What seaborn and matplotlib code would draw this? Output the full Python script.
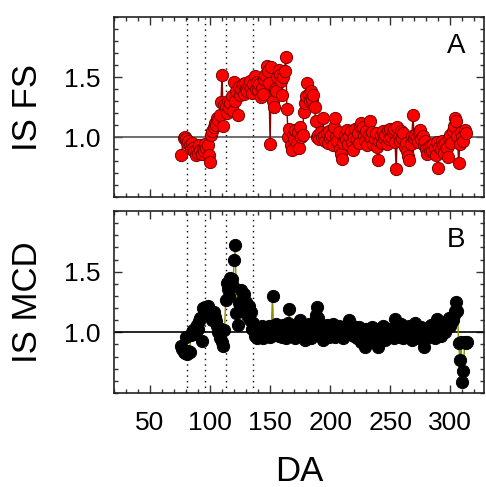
import numpy as np
import pandas as pd
import matplotlib
matplotlib.use("Agg")
import matplotlib.pyplot as plt
from matplotlib.ticker import MultipleLocator, FixedLocator
import seaborn as sns

# ---------------- data ----------------
fs_days = [76, 78, 79, 80, 81, 82, 83, 84, 85, 86, 87, 88, 89, 90, 91, 92, 93, 94, 95, 96,
           97, 98, 99, 100, 101, 102, 103, 104, 105, 106, 107, 108, 109, 110, 111, 112, 113, 114, 115, 116,
           117, 118, 119, 120, 121, 122, 123, 124, 125, 126, 127, 128, 129, 130, 131, 132, 133, 134, 135, 136,
           137, 138, 139, 140, 141, 142, 143, 144, 145, 146, 147, 148, 149, 150, 151, 152, 153, 154, 155, 156,
           157, 158, 159, 160, 161, 162, 163, 164, 165, 166, 167, 168, 169, 170, 171, 172, 173, 174, 175, 176,
           177, 178, 179, 180, 181, 182, 183, 184, 185, 186, 187, 188, 189, 190, 191, 192, 193, 194, 195, 196,
           197, 198, 199, 200, 201, 202, 203, 204, 205, 206, 207, 208, 209, 210, 211, 212, 213, 214, 215, 216,
           217, 218, 219, 220, 221, 222, 223, 224, 225, 226, 227, 228, 229, 230, 231, 232, 233, 234, 235, 236,
           237, 238, 239, 240, 241, 242, 243, 244, 245, 246, 247, 248, 249, 250, 251, 252, 253, 254, 255, 256,
           257, 258, 259, 260, 261, 262, 263, 264, 265, 266, 267, 268, 269, 270, 271, 272, 273, 274, 275, 276,
           277, 278, 279, 280, 281, 282, 283, 284, 285, 286, 287, 288, 289, 290, 291, 292, 293, 294, 295, 296,
           297, 298, 299, 300, 301, 302, 303, 304, 305, 306, 307, 308, 309, 310, 311, 312, 313]
fs_vals = [0.85, 0.99, 1.00, 0.98, 0.95, 0.97, 0.93, 0.90, 0.95, 0.91, 0.88, 0.85, 0.90, 0.87, 0.93, 0.89, 0.86, 0.90, 0.88, 0.94,
           0.91, 0.93, 0.85, 0.79, 1.02, 1.05, 1.08, 1.12, 1.10, 1.16, 1.14, 1.18, 1.29, 1.52, 1.09, 1.27, 1.25, 1.20, 1.30, 1.24,
           1.28, 1.34, 1.22, 1.46, 1.30, 1.38, 1.18, 1.42, 1.35, 1.40, 1.44, 1.36, 1.45, 1.40, 1.38, 1.43, 1.47, 1.41, 1.37, 1.44,
           1.51, 1.40, 1.46, 1.39, 1.44, 1.33, 1.41, 1.36, 1.48, 1.52, 1.59, 1.55, 1.45, 0.94, 1.58, 1.30, 1.25, 1.40, 1.38, 1.50,
           1.56, 1.52, 1.47, 1.35, 1.50, 1.55, 1.67, 1.23, 1.00, 1.07, 0.93, 0.89, 1.02, 0.98, 1.06, 0.95, 1.04, 0.91, 1.08, 1.00,
           1.02, 1.21, 1.28, 1.34, 1.45, 1.36, 1.30, 1.38, 1.31, 1.35, 1.25, 1.13, 1.00, 1.02, 0.98, 1.04, 1.00, 1.16, 1.01, 0.97,
           1.03, 0.95, 1.05, 0.99, 1.02, 0.93, 1.08, 1.16, 1.00, 0.97, 1.04, 0.90, 0.86, 0.82, 0.95, 1.02, 0.98, 1.06, 0.94, 1.01,
           1.05, 0.96, 0.89, 1.00, 1.07, 0.98, 1.03, 0.95, 1.09, 1.12, 1.08, 1.01, 0.97, 1.05, 0.93, 1.02, 1.13, 0.99, 1.04, 0.94,
           0.98, 1.03, 0.92, 0.81, 0.97, 1.01, 0.95, 1.05, 0.99, 1.02, 0.94, 1.06, 0.98, 1.07, 1.00, 1.04, 1.07, 0.96, 0.73, 1.08,
           1.01, 0.97, 1.05, 0.99, 1.03, 0.92, 0.95, 0.88, 0.84, 0.81, 0.94, 1.01, 1.18, 0.99, 1.02, 1.00, 0.96, 1.04, 1.06, 0.98,
           1.01, 0.93, 0.97, 0.90, 0.86, 0.92, 0.88, 0.93, 0.89, 0.94, 0.91, 0.85, 0.96, 0.74, 0.92, 0.90, 0.97, 0.93, 0.87, 0.95,
           0.91, 0.83, 0.99, 1.02, 0.95, 1.05, 1.09, 1.16, 1.13, 1.01, 0.78, 0.94, 1.04, 1.00, 0.97, 1.06, 1.03]

mcd_days = [76, 77, 78, 79, 80, 81, 82, 83, 84, 85, 86, 87, 88, 89, 90, 91, 92, 93, 94, 95,
            96, 97, 98, 99, 100, 101, 102, 103, 104, 105, 106, 107, 108, 109, 110, 111, 112, 113, 114, 115,
            116, 117, 118, 119, 120, 121, 122, 123, 124, 125, 126, 127, 128, 129, 130, 131, 132, 133, 134, 135,
            136, 137, 138, 139, 140, 141, 142, 143, 144, 145, 146, 147, 148, 149, 150, 151, 152, 153, 154, 155,
            156, 157, 158, 159, 160, 161, 162, 163, 164, 165, 166, 167, 168, 169, 170, 171, 172, 173, 174, 175,
            176, 177, 178, 179, 180, 181, 182, 183, 184, 185, 186, 187, 188, 189, 190, 191, 192, 193, 194, 195,
            196, 197, 198, 199, 200, 201, 202, 203, 204, 205, 206, 207, 208, 209, 210, 211, 212, 213, 214, 215,
            216, 217, 218, 219, 220, 221, 222, 223, 224, 225, 226, 227, 228, 229, 230, 231, 232, 233, 234, 235,
            236, 237, 238, 239, 240, 241, 242, 243, 244, 245, 246, 247, 248, 249, 250, 251, 252, 253, 254, 255,
            256, 257, 258, 259, 260, 261, 262, 263, 264, 265, 266, 267, 268, 269, 270, 271, 272, 273, 274, 275,
            276, 277, 278, 279, 280, 281, 282, 283, 284, 285, 286, 287, 288, 289, 290, 291, 292, 293, 294, 295,
            296, 297, 298, 299, 300, 301, 302, 303, 304, 305, 306, 307, 308, 309, 310, 311, 312, 313, 314]
mcd_vals = [0.89, 0.86, 0.84, 0.83, 0.96, 0.82, 0.85, 0.84, 0.98, 1.00, 1.02, 0.99, 1.04, 1.06, 1.03, 1.09, 1.12, 0.93, 1.20, 1.15,
            1.21, 1.18, 1.22, 1.19, 1.16, 1.13, 1.10, 1.17, 1.13, 1.09, 1.05, 1.00, 0.95, 1.03, 0.92, 0.89, 1.02, 1.27, 1.41, 1.36,
            1.30, 1.45, 1.44, 1.38, 1.60, 1.72, 1.16, 1.06, 1.24, 1.18, 1.35, 1.28, 1.32, 1.20, 1.25, 1.14, 1.22, 1.10, 1.17, 1.03,
            1.08, 0.97, 1.02, 0.95, 1.00, 1.04, 0.96, 1.05, 0.95, 1.01, 0.97, 1.03, 0.99, 1.05, 0.96, 1.04, 1.30, 0.98, 1.03, 1.07,
            1.00, 0.97, 1.04, 1.02, 0.96, 1.06, 1.01, 0.95, 1.00, 1.08, 1.19, 1.02, 0.97, 1.06, 1.01, 0.95, 1.03, 0.99, 1.04, 1.10,
            1.00, 0.97, 1.05, 0.94, 1.02, 0.98, 1.07, 1.01, 0.95, 1.03, 1.00, 1.09, 1.14, 1.21, 1.12, 1.05, 0.99, 1.03, 0.94, 1.01,
            0.97, 1.06, 1.02, 0.96, 1.04, 0.99, 1.07, 1.01, 0.96, 1.03, 0.98, 1.05, 1.00, 0.97, 1.02, 0.95, 1.04, 0.99, 1.06, 1.01,
            1.10, 1.03, 0.98, 1.05, 0.97, 1.02, 0.95, 1.00, 1.04, 0.96, 0.92, 1.01, 0.97, 0.88, 1.03, 0.99, 0.95, 1.02, 0.97, 1.04,
            1.00, 0.94, 0.98, 1.03, 0.88, 0.96, 1.01, 0.97, 1.05, 0.99, 0.94, 1.02, 0.96, 1.00, 1.03, 0.97, 1.01, 0.95, 1.11, 1.06,
            0.99, 1.03, 0.96, 1.07, 1.00, 0.95, 1.04, 0.98, 1.02, 0.96, 1.05, 0.99, 0.94, 1.03, 0.97, 1.08, 1.00, 0.95, 1.02, 0.97,
            1.04, 0.99, 0.88, 0.96, 1.01, 0.95, 1.03, 0.98, 1.06, 0.97, 1.02, 0.95, 1.04, 1.11, 0.99, 1.05, 0.97, 1.08, 1.02, 1.06,
            1.00, 1.09, 1.04, 1.12, 1.05, 1.08, 1.10, 1.14, 1.18, 1.25, 1.18, 0.91, 0.77, 0.92, 0.59, 0.68, 0.92, 0.91, 0.92]

event_days = [81, 96, 113, 136]
panel_labels = ["A", "B"]
y_labels = ["IS FS", "IS MCD"]
x_label = "DA"
x_ticks = [50, 100, 150, 200, 250, 300]
y_ticks = [1.0, 1.5]

df_fs = pd.DataFrame({"DA": fs_days, "IS": fs_vals})
df_mcd = pd.DataFrame({"DA": mcd_days, "IS": mcd_vals})

# ---------------- style ----------------
sns.set_style("ticks")
plt.rcParams["font.family"] = ["Liberation Sans", "DejaVu Sans"]
plt.rcParams["text.color"] = "black"
plt.rcParams["axes.labelcolor"] = "black"
plt.rcParams["xtick.color"] = "black"
plt.rcParams["ytick.color"] = "black"

fig = plt.figure(figsize=(4.86, 4.87), dpi=100)
ax1 = fig.add_axes([0.2346, 0.5955, 0.761, 0.3695])
ax2 = fig.add_axes([0.2346, 0.1930, 0.761, 0.3737], sharex=ax1)

styles = [
    dict(df=df_fs, line="#8b0000", face="#ff0000", edge="#7a0000", hline="#555555"),
    dict(df=df_mcd, line="#8f8f00", face="#000000", edge="#000000", hline="#000000"),
]

for ax, st, lab, ylab in zip([ax1, ax2], styles, panel_labels, y_labels):
    ax.axhline(1.0, color=st["hline"], lw=1.2, zorder=1)
    for d in event_days:
        ax.axvline(d, color="black", lw=1.0, ls=(0, (1, 3)), zorder=1)
    sns.lineplot(data=st["df"], x="DA", y="IS", ax=ax, sort=False,
                 color=st["line"], lw=1.0, marker="o", markersize=8.8,
                 markerfacecolor=st["face"], markeredgecolor=st["edge"],
                 markeredgewidth=0.7, zorder=3)
    ax.set_xlim(20, 328)
    ax.set_ylim(0.5, 2.0)
    ax.yaxis.set_major_locator(FixedLocator(y_ticks))
    ax.yaxis.set_minor_locator(MultipleLocator(0.1))
    ax.xaxis.set_major_locator(FixedLocator(x_ticks))
    ax.xaxis.set_minor_locator(MultipleLocator(10))
    ax.tick_params(which="both", direction="in", top=True, right=True, width=1.0,
                   color="#333333", labelcolor="black")
    ax.tick_params(which="major", length=6, labelsize=19)
    ax.tick_params(axis="y", which="major", pad=10)
    ax.tick_params(which="minor", length=3)
    ax.set_yticklabels(["1.0", "1.5"])
    ax.set_ylabel(ylab, fontsize=25, labelpad=14, color="black")
    ax.set_xlabel("")
    ax.text(0.925, 0.84, lab, transform=ax.transAxes, fontsize=20,
            ha="center", va="center", color="black")
    for s in ax.spines.values():
        s.set_color("#222222")
        s.set_linewidth(1.2)

ax1.tick_params(axis="x", labelbottom=False)
ax2.tick_params(axis="x", which="major", pad=13)
ax2.set_xticklabels([str(t) for t in x_ticks])
ax2.set_xlabel(x_label, fontsize=25, labelpad=14, color="black")

fig.savefig("out.png", dpi=100)
